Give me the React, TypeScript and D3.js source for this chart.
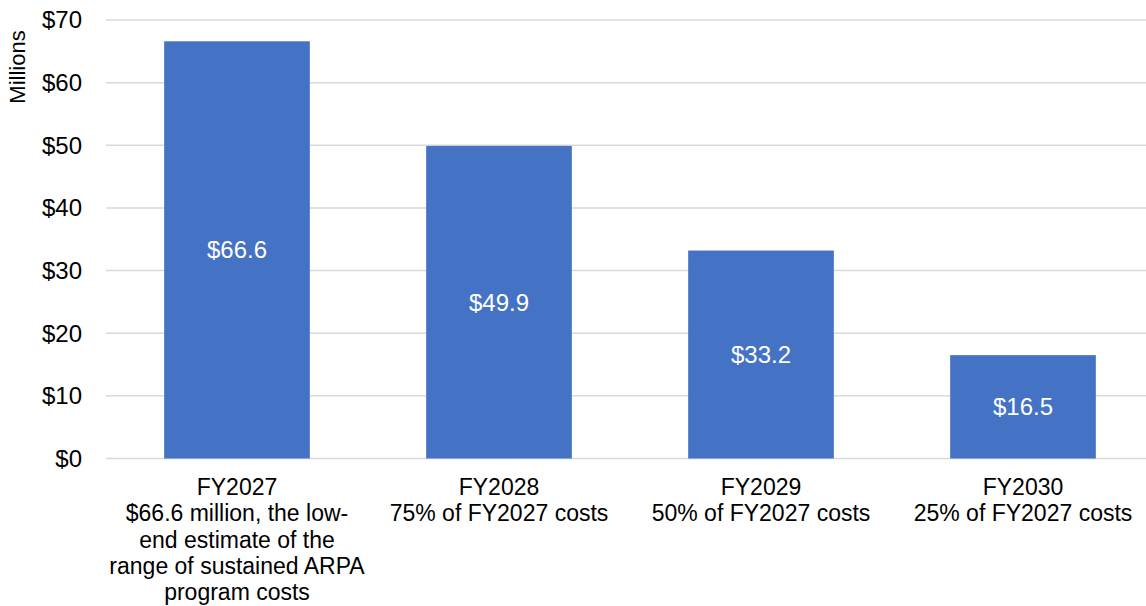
import React from "react";
import * as d3 from "d3";

const categories = ["FY2027", "FY2028", "FY2029", "FY2030"];
const subLabels = [
  ["$66.6 million, the low-", "end estimate of the", "range of sustained ARPA", "program costs"],
  ["75% of FY2027 costs"],
  ["50% of FY2027 costs"],
  ["25% of FY2027 costs"],
];
const values = [66.6, 49.9, 33.2, 16.5];
const yTicks = [0, 10, 20, 30, 40, 50, 60, 70];

const W = 1146;
const H = 606;
const FONT = "'Liberation Sans', Arial, sans-serif";

export default function App() {
  const x = d3.scaleBand<string>().domain(categories).range([106, 1154]).paddingInner(0.444).paddingOuter(0.222);
  const y = d3.scaleLinear().domain([0, 70]).range([458.5, 20]);
  const bw = x.bandwidth();
  return (
    <svg width={W} height={H} style={{ position: "fixed", top: 0, left: 0, background: "#fff" }} fontFamily={FONT}>
      {yTicks.map((t) => (
        <g key={t}>
          <line x1={106} x2={W} y1={y(t)} y2={y(t)} stroke="#d9d9d9" strokeWidth={1.5} />
          <text x={82} y={y(t)} dy="0.35em" textAnchor="end" fontSize={24} fill="#000">
            {"$" + t}
          </text>
        </g>
      ))}
      <text transform={`translate(25,67) rotate(-90)`} textAnchor="middle" fontSize={22} fill="#000">
        Millions
      </text>
      {categories.map((c, i) => {
        const bx = x(c)!;
        const cx = bx + bw / 2;
        return (
          <g key={c}>
            <rect x={bx} y={y(values[i])} width={bw} height={y(0) - y(values[i])} fill="#4472C4" />
            <text x={cx} y={(y(values[i]) + y(0)) / 2} dy="0.35em" textAnchor="middle" fontSize={24} fill="#fff">
              {"$" + values[i].toFixed(1)}
            </text>
            <text x={cx} y={495} textAnchor="middle" fontSize={23} fill="#000">
              {c}
            </text>
            {subLabels[i].map((l, j) => (
              <text key={j} x={cx} y={521.3 + j * 26.3} textAnchor="middle" fontSize={23} fill="#000">
                {l}
              </text>
            ))}
          </g>
        );
      })}
    </svg>
  );
}
